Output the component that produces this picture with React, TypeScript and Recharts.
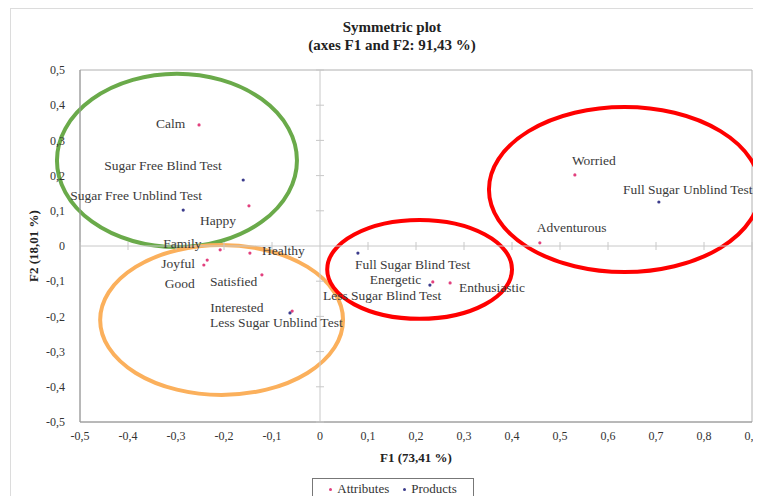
import React from 'react';
import {
  ScatterChart,
  Scatter,
  XAxis,
  YAxis,
  ReferenceLine,
  ReferenceArea,
  ReferenceDot,
  Legend,
} from 'recharts';

// ---------- data ----------
const attributeNames = ['Calm', 'Happy', 'Family', 'Healthy', 'Joyful', 'Good', 'Satisfied', 'Interested', 'Energetic', 'Enthusiastic', 'Worried', 'Adventurous'];
const attributeF1 = [-0.252, -0.148, -0.208, -0.146, -0.235, -0.242, -0.121, -0.058, 0.235, 0.271, 0.531, 0.458];
const attributeF2 = [0.344, 0.114, -0.011, -0.02, -0.04, -0.054, -0.082, -0.185, -0.102, -0.105, 0.202, 0.009];

const productNames = ['Sugar Free Blind Test', 'Sugar Free Unblind Test', 'Less Sugar Unblind Test', 'Less Sugar Blind Test', 'Full Sugar Blind Test', 'Full Sugar Unblind Test'];
const productF1 = [-0.16, -0.285, -0.0625, 0.229, 0.079, 0.706];
const productF2 = [0.1875, 0.102, -0.19, -0.111, -0.02, 0.125];

const xTicks = [-0.5, -0.4, -0.3, -0.2, -0.1, 0, 0.1, 0.2, 0.3, 0.4, 0.5, 0.6, 0.7, 0.8, 0.9];
const yTicks = [-0.5, -0.4, -0.3, -0.2, -0.1, 0, 0.1, 0.2, 0.3, 0.4, 0.5];

const titleLines = ['Symmetric plot', '(axes F1 and F2: 91,43 %)'];
const xTitle = 'F1 (73,41 %)';
const yTitle = 'F2 (18,01 %)';

// highlight ellipses (bounding boxes in data units)
const ellipseX1 = [-0.548, -0.458, 0.015, 0.352];
const ellipseX2 = [-0.048, 0.048, 0.4, 0.917];
const ellipseY1 = [0.489, 0.003, 0.074, 0.395];
const ellipseY2 = [-0.003, -0.423, -0.207, -0.074];
const ellipseColors = ['#6aaa4a', '#fbb05c', '#ff0000', '#ff0000'];

// ---------- layout (label placement relative to point, px) ----------
const labelOffsets: Record<string, [number, number]> = {
  Calm: [-43, -1],
  Happy: [-49, 15],
  Family: [-57, -6],
  Healthy: [12, -3],
  Joyful: [-46, 3],
  Good: [-39, 18],
  Satisfied: [-52, 7],
  Interested: [-82, -4],
  Energetic: [-63, -2],
  Enthusiastic: [9, 5],
  Worried: [-3, -14],
  Adventurous: [-3, -15],
  'Sugar Free Blind Test': [-139, -15],
  'Sugar Free Unblind Test': [-113, -15],
  'Less Sugar Unblind Test': [-80, 10],
  'Less Sugar Blind Test': [-107, 10],
  'Full Sugar Blind Test': [-3, 11],
  'Full Sugar Unblind Test': [-36, -13],
};

const attributes = attributeNames.map((name, i) => ({ name, x: attributeF1[i], y: attributeF2[i] }));
const products = productNames.map((name, i) => ({ name, x: productF1[i], y: productF2[i] }));

const FONT = "'Liberation Serif', 'Times New Roman', serif";
const ATTR_COLOR = '#e2407e';
const PROD_COLOR = '#3c3c8c';

const fmt = (v: number) => (Math.abs(v) < 1e-9 ? '0' : v.toFixed(1).replace('.', ','));

const makeShape = (color: string) => (p: any) => {
  const { cx, cy, payload } = p;
  const off = labelOffsets[payload.name] ?? [5, -10];
  return (
    <g>
      <circle cx={cx} cy={cy} r={1.6} fill={color} />
      <text
        x={cx + off[0]}
        y={cy + off[1]}
        dominantBaseline="central"
        fontSize={13.5}
        fontFamily={FONT}
        fill="#3a3a3a"
      >
        {payload.name}
      </text>
    </g>
  );
};

const makeEllipse = (color: string) => (p: any) => {
  const w = Math.abs(p.width);
  const h = Math.abs(p.height);
  const x = Math.min(p.x, p.x + p.width);
  const y = Math.min(p.y, p.y + p.height);
  return (
    <ellipse cx={x + w / 2} cy={y + h / 2} rx={w / 2} ry={h / 2} fill="none" stroke={color} strokeWidth={4} />
  );
};

const vTick = (p: any) => <line x1={p.cx} x2={p.cx} y1={p.cy - 4} y2={p.cy + 4} stroke="#c8c8c8" strokeWidth={1} />;
const hTick = (p: any) => <line x1={p.cx - 4} x2={p.cx + 4} y1={p.cy} y2={p.cy} stroke="#c8c8c8" strokeWidth={1} />;

const LegendContent = (props: any) => {
  const items = props.payload || [];
  return (
    <div
      style={{
        border: '1px solid #777',
        height: 22,
        display: 'flex',
        alignItems: 'center',
        justifyContent: 'center',
        gap: 14,
        fontFamily: FONT,
        fontSize: 13,
        color: '#333',
        boxSizing: 'border-box',
      }}
    >
      {items.map((it: any) => (
        <span key={it.value} style={{ display: 'flex', alignItems: 'center' }}>
          <span style={{ display: 'inline-block', width: 3, height: 3, borderRadius: 2, background: it.color, marginRight: 5 }} />
          {it.value}
        </span>
      ))}
    </div>
  );
};

export default function App() {
  return (
    <div style={{ position: 'relative', width: 761, height: 504, margin: -8, overflow: 'hidden', background: '#fff' }}>
      <div
        style={{
          position: 'absolute',
          left: 10,
          top: 8,
          width: 760,
          height: 500,
          border: '1px solid #dcdcdc',
          pointerEvents: 'none',
        }}
      />
      <div
        style={{
          position: 'absolute',
          left: 192,
          top: 18,
          width: 400,
          textAlign: 'center',
          fontFamily: FONT,
          fontWeight: 'bold',
          fontSize: 15,
          lineHeight: '18px',
          color: '#222',
        }}
      >
        {titleLines.map((t) => (
          <div key={t}>{t}</div>
        ))}
      </div>
      <ScatterChart width={761} height={504} margin={{ top: 70, right: 9, bottom: 42, left: 20 }}>
        <XAxis
          type="number"
          dataKey="x"
          domain={[-0.5, 0.9]}
          ticks={xTicks}
          tickFormatter={fmt}
          height={40}
          tickSize={0}
          tickMargin={9}
          axisLine={{ stroke: '#9a9a9a' }}
          tick={{ fontSize: 12, fontFamily: FONT, fill: '#333' }}
          label={{ value: xTitle, position: 'insideBottom', offset: 0, style: { fontSize: 13, fontFamily: FONT, fontWeight: 'bold', fill: '#222' } }}
        />
        <YAxis
          type="number"
          dataKey="y"
          domain={[-0.5, 0.5]}
          ticks={yTicks}
          tickFormatter={fmt}
          width={60}
          tickSize={0}
          tickMargin={15}
          axisLine={{ stroke: '#9a9a9a' }}
          tick={{ fontSize: 12, fontFamily: FONT, fill: '#333' }}
          label={{
            value: yTitle,
            angle: -90,
            position: 'insideLeft',
            offset: 13,
            style: { textAnchor: 'middle', fontSize: 13, fontFamily: FONT, fontWeight: 'bold', fill: '#222' },
          }}
        />
        <ReferenceArea x1={-0.5} x2={0.9} y1={-0.5} y2={0.5} fill="none" stroke="#b0b0b0" strokeWidth={1} />
        <ReferenceLine x={0} stroke="#c8c8c8" />
        <ReferenceLine y={0} stroke="#c8c8c8" />
        {xTicks.filter((t) => t !== 0).map((t) => (
          <ReferenceDot key={'xt' + t} x={t} y={0} r={0} shape={vTick} />
        ))}
        {yTicks.filter((t) => t !== 0).map((t) => (
          <ReferenceDot key={'yt' + t} x={0} y={t} r={0} shape={hTick} />
        ))}
        <Scatter name="Attributes" data={attributes} fill={ATTR_COLOR} shape={makeShape(ATTR_COLOR)} isAnimationActive={false} />
        <Scatter name="Products" data={products} fill={PROD_COLOR} shape={makeShape(PROD_COLOR)} isAnimationActive={false} />
        {ellipseColors.map((c, i) => (
          <ReferenceArea
            key={'el' + i}
            x1={ellipseX1[i]}
            x2={ellipseX2[i]}
            y1={ellipseY1[i]}
            y2={ellipseY2[i]}
            ifOverflow="visible"
            shape={makeEllipse(c)}
          />
        ))}
        <Legend
          layout="horizontal"
          verticalAlign="middle"
          align="center"
          content={LegendContent}
          wrapperStyle={{ position: 'absolute', left: 312, top: 478, width: 162, height: 24 }}
        />
      </ScatterChart>
    </div>
  );
}
